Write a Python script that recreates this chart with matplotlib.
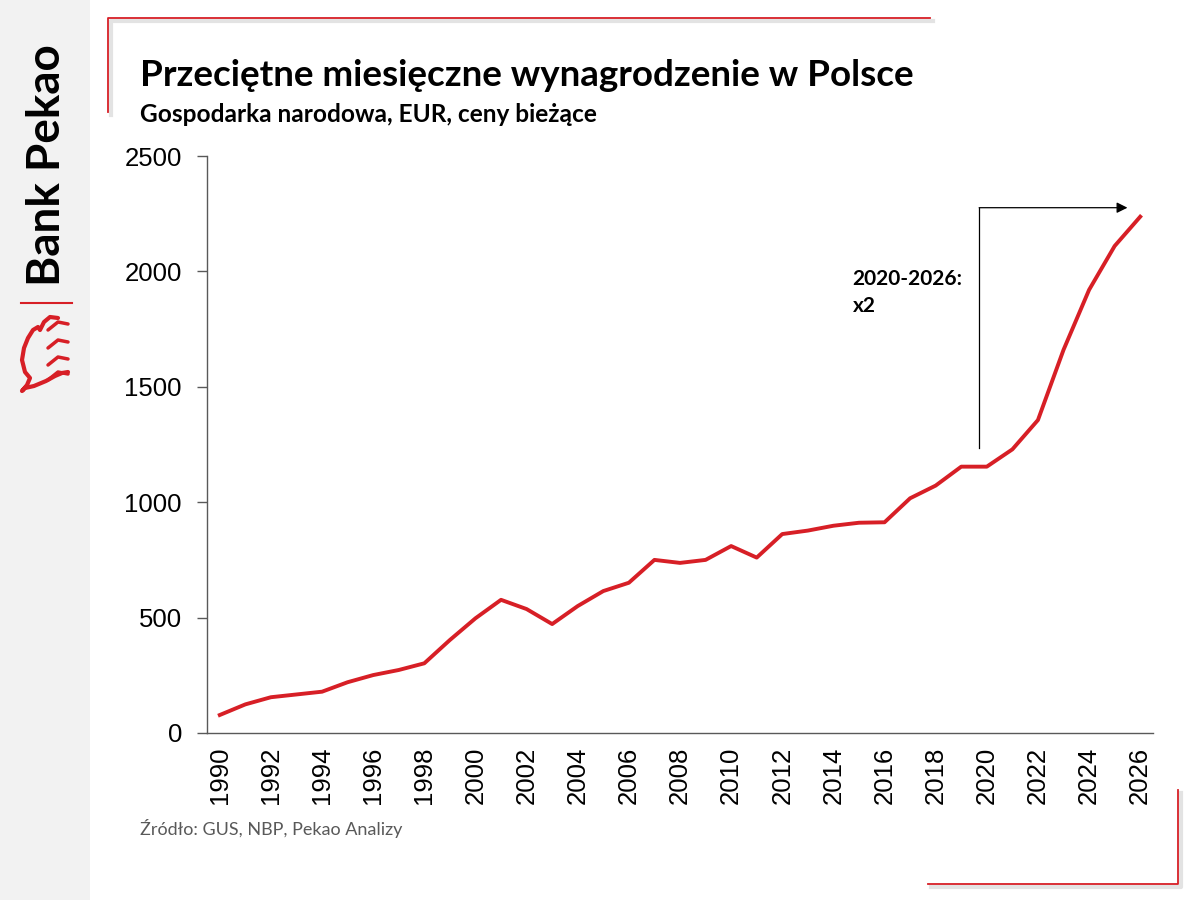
import matplotlib
matplotlib.use("Agg")
import matplotlib.pyplot as plt
import numpy as np

# data
years = list(range(1990, 2027))
wages = [78, 124, 155, 167, 179, 220, 251, 273, 302, 403,
         497, 577, 537, 472, 550, 615, 651, 750, 737, 750,
         810, 760, 862, 877, 898, 911, 913, 1017, 1072, 1154,
         1154, 1229, 1356, 1660, 1920, 2110, 2237]
tick_years = years[::2]

title = "Przeciętne miesięczne wynagrodzenie w Polsce"
subtitle = "Gospodarka narodowa, EUR, ceny bieżące"
note = "2020-2026:\nx2"
source = "Źródło: GUS, NBP, Pekao Analizy"

red = "#d71f26"
W, H = 1200, 900

fig = plt.figure(figsize=(12, 9), dpi=100)
fig.patch.set_facecolor("white")

def px(x, y):
    # pixel coords (top-left origin) to figure fraction
    return x / W, 1 - y / H

# grey band with logo on the left
fig.add_artist(plt.Rectangle((0, 0), 90 / W, 1, transform=fig.transFigure,
                             facecolor="#f2f2f2", edgecolor="none", zorder=0))
fig.text(*px(47, 165), "Bank Pekao", rotation=90, ha="center", va="center",
         fontsize=33, family="Lato", fontweight="bold", color="black")
fig.add_artist(plt.Line2D([21 / W, 72 / W], [1 - 303 / H] * 2,
                          transform=fig.transFigure, color=red, lw=1.5))
# rough drawing of the logo mark
logo_x = [58, 50, 44, 40, 38, 33, 28, 24, 22, 25, 30, 27, 22, 25, 34, 46, 55, 62, 68]
logo_y = [318, 317, 322, 330, 327, 330, 338, 348, 360, 372, 378, 385, 391, 388, 386, 381, 376, 373, 372]
fig.add_artist(plt.Line2D(np.array(logo_x) / W, 1 - np.array(logo_y) / H,
                          transform=fig.transFigure, color=red, lw=3,
                          solid_capstyle="round", solid_joinstyle="round"))
for yy in [322, 340, 357, 372]:
    fig.add_artist(plt.Line2D([48 / W, 58 / W, 68 / W],
                              [1 - (yy + 8) / H, 1 - (yy) / H, 1 - (yy + 2) / H],
                              transform=fig.transFigure, color=red, lw=2.5,
                              solid_capstyle="round"))

# frame corners with a soft shadow
def corner(xs, ys):
    fig.add_artist(plt.Line2D(np.array(xs) / W + 3 / W, 1 - np.array(ys) / H - 3 / H,
                              transform=fig.transFigure, color="#e3e3e3", lw=3))
    fig.add_artist(plt.Line2D(np.array(xs) / W, 1 - np.array(ys) / H,
                              transform=fig.transFigure, color=red, lw=1.3))

corner([108, 108, 930], [112, 18, 18])
corner([928, 1178, 1178], [884, 884, 790])

fig.text(*px(140, 75), title, fontsize=26.5, fontweight="bold", family="Lato",
         ha="left", va="center")
fig.text(*px(140, 115), subtitle, fontsize=17.6, fontweight="bold", family="Lato",
         ha="left", va="center")
fig.text(*px(140, 829), source, fontsize=13, family="Lato", color="#595959",
         ha="left", va="center")

ax = fig.add_axes([207 / W, 1 - 733 / H, (1153 - 207) / W, (733 - 156) / H])
x = np.arange(len(years))
ax.plot(x, wages, color=red, lw=2.8, solid_joinstyle="round")

ax.set_xlim(-0.5, len(years) - 0.5)
ax.set_ylim(0, 2500)
ax.set_yticks(np.arange(0, 2501, 500))
ax.set_xticks([years.index(y) for y in tick_years])
ax.set_xticklabels([str(y) for y in tick_years], rotation=90)
for lab in ax.get_xticklabels() + ax.get_yticklabels():
    lab.set_family("Liberation Sans")
    lab.set_fontsize(18.5)
ax.tick_params(axis="x", length=0, pad=10)
ax.tick_params(axis="y", length=7, width=1, color="#595959", pad=11)
for s in ["top", "right"]:
    ax.spines[s].set_visible(False)
for s in ["left", "bottom"]:
    ax.spines[s].set_color("#595959")
    ax.spines[s].set_linewidth(1)

# arrow 2020 -> 2026
ax.plot([29.7, 29.7], [1235, 2276], color="black", lw=0.9)
ax.annotate("", xy=(35.5, 2276), xytext=(29.7, 2276),
            arrowprops=dict(arrowstyle="-|>", color="black", lw=0.9,
                            mutation_scale=16, shrinkA=0, shrinkB=0))
ax.text(24.75, 2010, note, fontsize=15, fontweight="bold", family="Lato",
        ha="left", va="top", linespacing=1.45)

fig.savefig("out.png", dpi=100)
